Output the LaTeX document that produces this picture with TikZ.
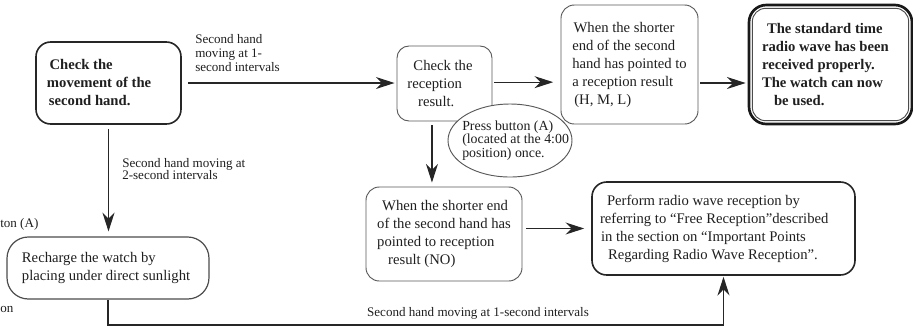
\documentclass[tikz,border=0pt]{standalone}
\usepackage{fontspec}
\setmainfont{Liberation Serif}
\usetikzlibrary{arrows.meta,shapes.geometric}
\begin{document}
\begin{tikzpicture}[x=0.75pt,y=-0.75pt,
  box/.style={draw=black!65, line width=0.7pt, inner sep=0pt, align=left, text=black!88,
              font=\fontsize{11}{13.5}\selectfont},
  boldbox/.style={box, draw=black!85, line width=1.2pt, font=\fontsize{11}{13.5}\selectfont\bfseries},
  lbl/.style={inner sep=0pt, align=left, text=black!88, font=\fontsize{9.8}{10.3}\selectfont},
  arr/.style={-{Stealth[length=14pt,width=9pt,inset=4.5pt]}, line width=0.9pt, draw=black!85},
]
\useasboundingbox (0,0) rectangle (913,330);

% boxes
\node[boldbox, rounded corners=11pt, minimum width=108.75pt, minimum height=61.5pt] (b1) at (108.5,83)
  {\hspace*{2pt}Check the\\movement of the\kern14.1pt\\\hspace*{1.5pt}second hand.};

\node[box, rounded corners=9pt, minimum width=71.25pt, minimum height=56.25pt] (b2) at (444.5,83.5)
  {\hspace*{4.5pt}Check the\kern6.75pt\\reception\\\hspace*{8pt}result.};

\node[box, rounded corners=10pt, minimum width=102.75pt, minimum height=89.25pt] (b3) at (629.5,64.5)
  {\hspace*{1pt}When the shorter\\end of the second\\hand has pointed to\\a reception result\\\hspace*{1.5pt}(H, M, L)};

\node[boldbox, rounded corners=13pt, line width=2pt, draw=black!90, minimum width=122.25pt, minimum height=89.25pt] (b4) at (830.5,64.5)
  {\hspace*{3.75pt}The standard time\\radio wave has been\kern7.7pt\\received properly.\\The watch can now\\\hspace*{9pt}be used.};
\draw[line width=0.7pt, draw=black!70, rounded corners=10pt]
  ([xshift=3.5pt,yshift=-3.5pt]b4.north west) rectangle ([xshift=-3.5pt,yshift=3.5pt]b4.south east);

\node[box, rounded corners=10pt, minimum width=117pt, minimum height=70.5pt] (b5) at (444,234)
  {\hspace*{3.75pt}When the shorter end\\of the second hand has\\pointed to reception\\\hspace*{8.25pt}result (NO)};

\node[box, draw=black!85, line width=1.2pt, rounded corners=11pt, minimum width=197.25pt, minimum height=69.75pt] (b6) at (723.5,228.5)
  {\hspace*{5.25pt}Perform radio wave reception by\\referring to “Free Reception”described\kern13.9pt\\\hspace*{0.75pt}in the section on “Important Points\\\hspace*{6pt}Regarding Radio Wave Reception”.};

\node[box, line width=0.9pt, draw=black!70, rounded corners=16pt, minimum width=151.5pt, minimum height=46.5pt] (rc) at (108,268)
  {Recharge the watch by\\placing under direct sunlight\kern2.9pt};

\node[draw=black!65, line width=0.7pt, ellipse, fill=white, inner sep=0pt, minimum width=93pt, minimum height=54.75pt] (el) at (510,140.5) {};
\node[inner sep=0pt, align=left, text=black!88, font=\fontsize{10.4}{9.9}\selectfont, anchor=west] (elt) at (462,140.5)
  {Press button (A)\\(located at the 4:00\\position) once.};

% labels
\node[lbl, anchor=west] (l1) at (195,53) {Second hand\\moving at 1-\\second intervals};
\node[lbl, anchor=west, font=\fontsize{9.8}{9.4}\selectfont] (l2) at (122,169) {Second hand moving at\\2-second intervals};
\node[lbl, anchor=base] (l3) at (478,316) {Second hand moving at 1-second intervals};
\node[lbl, anchor=base west] (f1) at (0,227) {ton (A)};
\node[lbl, anchor=base west] (f2) at (0,312) {on};

% connectors
\draw[arr] ([xshift=4.5pt]b1.east) -- ([xshift=-1.5pt]b1.east -| b2.west);
\draw[arr] ([xshift=1.5pt,yshift=1pt]b2.east) -- ([xshift=-5.5pt,yshift=1pt]b2.east -| b3.west);
\draw[arr] ([xshift=1.5pt]b3.east |- b1.east) -- ([xshift=-1.5pt]b4.west |- b1.east);
\draw[arr] ([yshift=-3pt]b1.south) -- ([yshift=3.75pt]b1.south |- rc.north);
\draw[arr] ([xshift=-9.4pt,yshift=-3pt]b2.south) -- ([xshift=-9.4pt,yshift=3pt]b2.south |- b5.north);
\draw[arr] ([xshift=3pt]b5.east |- b6.west) -- ([xshift=-5.25pt]b6.west);
\coordinate (bot) at (0,325);
\draw[arr] (rc.south) |- (b6.south |- bot) -- ([yshift=-0.75pt]b6.south);
\end{tikzpicture}
\end{document}
